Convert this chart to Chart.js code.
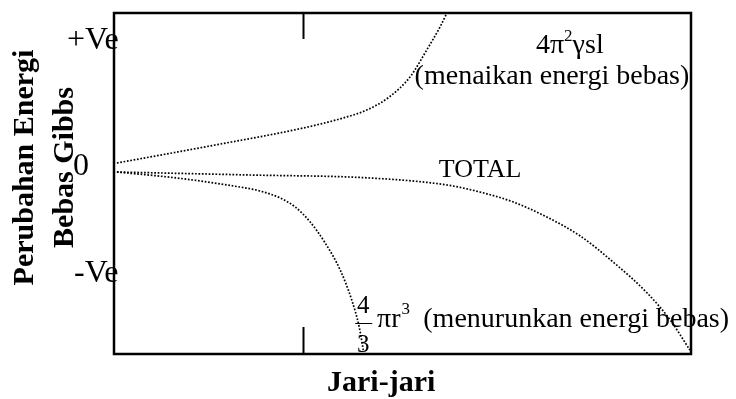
<!DOCTYPE html>
<html>
<head>
<meta charset="utf-8">
<script src="https://cdn.jsdelivr.net/npm/chart.js@4.4.0/dist/chart.umd.min.js"></script>
<style>
  body { margin: 0; background: #fff; }
  canvas { display: block; }
</style>
</head>
<body>
<canvas id="energiChart" width="736" height="399"></canvas>
<script>
// jari-jari (0-100) vs perubahan energi bebas (satuan relatif)
var jariPermukaan = [0.5, 16.6, 32.8, 39.7, 43.8, 47.7, 51.3, 54.2, 56.5, 57.7];
var energiPermukaan = [4, 21, 39, 49, 57, 70, 90, 117, 140, 154];

var jariTotal = [0.5, 23.6, 44.4, 57.7, 63.4, 69.2, 75.0, 80.8, 86.5, 92.4, 96.4, 99.8];
var energiTotal = [-5, -8, -11, -18, -25, -35, -50, -69, -95, -126, -153, -183];

var jariVolume = [0.5, 10.9, 19.6, 25.3, 28.8, 31.4, 34.0, 36.6, 39.2, 41.2, 42.5, 43.2];
var energiVolume = [-5, -11, -18, -24, -31, -40, -55, -76, -103, -133, -160, -183];

var yTickValues = [126, 0, -107];
var yTickLabels = ['+Ve', '0', '-Ve'];
var xTickMarks = [32.8];

// posisi kiri label sumbu y (piksel)
var yLabelLeft = [67, 73, 74];

var SERIF = '"Liberation Serif", "Times New Roman", serif';

function seri(xs, ys) {
  return xs.map(function (x, i) { return { x: x, y: ys[i] }; });
}

function garisTitik(data) {
  return {
    data: data,
    borderColor: '#000',
    borderWidth: 1.7,
    borderDash: [1.7, 1.7],
    pointRadius: 0,
    fill: false,
    cubicInterpolationMode: 'monotone'
  };
}

// label sumbu, kotak, tanda tick, judul sumbu dan keterangan kurva
var keterangan = {
  id: 'keterangan',
  afterDraw: function (chart) {
    var ctx = chart.ctx;
    var a = chart.chartArea;
    var sx = chart.scales.x, sy = chart.scales.y;
    function px(v) { return sx.getPixelForValue(v); }
    function py(v) { return sy.getPixelForValue(v); }

    ctx.save();
    ctx.strokeStyle = '#000';
    ctx.fillStyle = '#000';

    ctx.font = '32px ' + SERIF;
    ctx.textAlign = 'left';
    ctx.textBaseline = 'middle';
    yTickValues.forEach(function (v, i) {
      ctx.fillText(yTickLabels[i], yLabelLeft[i], py(v));
    });

    ctx.lineWidth = 2.5;
    ctx.strokeRect(a.left, a.top, a.right - a.left, a.bottom - a.top);

    ctx.lineWidth = 2;
    xTickMarks.forEach(function (v) {
      var x = Math.round(px(v)) + 0.5;
      ctx.beginPath();
      ctx.moveTo(x, a.top); ctx.lineTo(x, a.top + 26);
      ctx.moveTo(x, a.bottom); ctx.lineTo(x, a.bottom - 27);
      ctx.stroke();
    });

    // judul sumbu y (dua baris, diputar)
    ctx.font = 'bold 30px ' + SERIF;
    ctx.textAlign = 'center';
    ctx.textBaseline = 'middle';
    ctx.save();
    ctx.translate(25, (a.top + a.bottom) / 2 - 16);
    ctx.rotate(-Math.PI / 2);
    ctx.fillText('Perubahan Energi', 0, 0);
    ctx.fillText('Bebas Gibbs', 0, 40);
    ctx.restore();

    // judul sumbu x
    ctx.textBaseline = 'alphabetic';
    ctx.fillText('Jari-jari', px(46.3), a.bottom + 37);

    // 4π²γsl
    ctx.font = '28px ' + SERIF;
    ctx.textAlign = 'left';
    var t1 = '4\u03c0', t2 = '2', t3 = '\u03b3sl';
    var w1 = ctx.measureText(t1).width, w3 = ctx.measureText(t3).width;
    ctx.font = '17px ' + SERIF;
    var w2 = ctx.measureText(t2).width;
    var x0 = px(79) - (w1 + w2 + w3) / 2, yb = py(114);
    ctx.font = '28px ' + SERIF;
    ctx.fillText(t1, x0, yb);
    ctx.font = '17px ' + SERIF;
    ctx.fillText(t2, x0 + w1, yb - 12);
    ctx.font = '28px ' + SERIF;
    ctx.fillText(t3, x0 + w1 + w2, yb);

    ctx.textAlign = 'center';
    ctx.fillText('(menaikan energi bebas)', px(75.9), py(83));

    ctx.font = '26px ' + SERIF;
    ctx.textAlign = 'left';
    ctx.fillText('TOTAL', px(56.3), py(-10));

    // 4/3 πr³
    var fx = px(43.2);
    ctx.font = '25px ' + SERIF;
    ctx.textAlign = 'center';
    ctx.fillText('4', fx, py(-146));
    ctx.fillText('3', fx, py(-185));
    ctx.lineWidth = 1;
    ctx.beginPath();
    ctx.moveTo(fx - 8, py(-156) + 0.5);
    ctx.lineTo(fx + 9, py(-156) + 0.5);
    ctx.stroke();

    ctx.textAlign = 'left';
    ctx.font = '28px ' + SERIF;
    var xp = px(45.6), yp = py(-160);
    ctx.fillText('\u03c0r', xp, yp);
    var wp = ctx.measureText('\u03c0r').width;
    ctx.font = '17px ' + SERIF;
    ctx.fillText('3', xp + wp + 1, yp - 13);
    ctx.font = '28px ' + SERIF;
    ctx.fillText('(menurunkan energi bebas)', px(53.6), yp);
    ctx.restore();
  }
};

var ctx = document.getElementById('energiChart').getContext('2d');
var energiChart = new Chart(ctx, {
  type: 'line',
  data: {
    datasets: [
      garisTitik(seri(jariPermukaan, energiPermukaan)),
      garisTitik(seri(jariTotal, energiTotal)),
      garisTitik(seri(jariVolume, energiVolume))
    ]
  },
  options: {
    responsive: false,
    animation: false,
    layout: { padding: { top: 13, right: 45, left: 0, bottom: 0 } },
    scales: {
      x: {
        type: 'linear',
        min: 0,
        max: 100,
        grid: { display: false, drawTicks: false },
        border: { display: false },
        ticks: { display: false },
        afterFit: function (s) { s.height = 45; }
      },
      y: {
        min: -187,
        max: 154,
        grid: { display: false, drawTicks: false },
        border: { display: false },
        ticks: { display: false },
        afterFit: function (s) { s.width = 114; }
      }
    },
    plugins: {
      legend: { display: false },
      tooltip: { enabled: false }
    }
  },
  plugins: [keterangan]
});
</script>
</body>
</html>
